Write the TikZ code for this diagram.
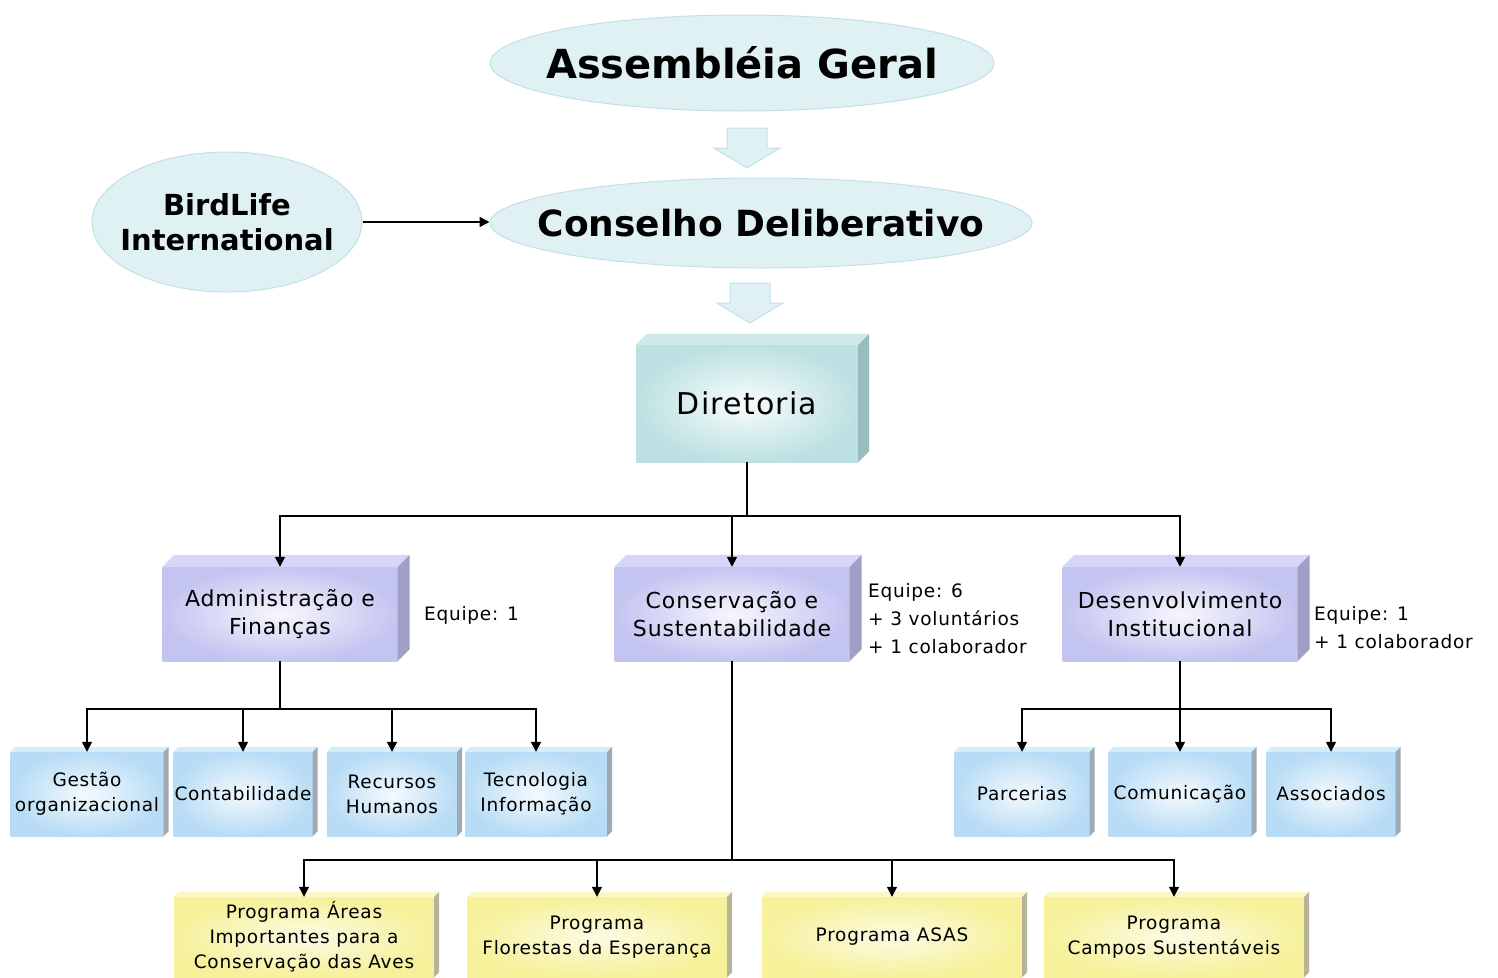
\documentclass[tikz,border=0pt]{standalone}
\usepackage{fontspec}
\setmainfont{DejaVu Sans}
\newfontfamily\verdana{DejaVu Sans}[LetterSpace=4]
\usetikzlibrary{shapes.geometric,arrows.meta,calc}

\definecolor{ovalfundo}{HTML}{E0F1F4}
\definecolor{ovalborda}{HTML}{C2E0E6}
\definecolor{cordir}{HTML}{BDE1E2}
\definecolor{topodir}{HTML}{CDE9E9}
\definecolor{ladodir}{HTML}{98BDBF}
\definecolor{corroxo}{HTML}{C4C4F1}
\definecolor{toporoxo}{HTML}{D6D6F8}
\definecolor{ladoroxo}{HTML}{A0A0C6}
\definecolor{corazul}{HTML}{B8DCF5}
\definecolor{topoazul}{HTML}{D6ECFA}
\definecolor{ladoazul}{HTML}{9EA9B2}
\definecolor{coramar}{HTML}{F6F19A}
\definecolor{topoamar}{HTML}{FAF7C4}
\definecolor{ladoamar}{HTML}{B6B39A}

\begin{document}
\begin{tikzpicture}[x=1pt,y=-1pt]
	\tikzset{
		oval/.style={ellipse,draw=ovalborda,fill=ovalfundo,line width=1pt,inner sep=0pt},
		caixa/.style={rectangle,inner sep=0pt,align=center,font=\verdana\fontsize{18.5}{25}\selectfont},
		dirbox/.style={caixa,minimum width=222pt,minimum height=117pt,
			inner color=white!90!cordir,outer color=cordir,font=\verdana\fontsize{30}{36}\selectfont},
		roxobox/.style={caixa,minimum width=235pt,minimum height=94pt,
			inner color=white!85!corroxo,outer color=corroxo,font=\verdana\fontsize{22}{28}\selectfont},
		azulbox/.style={caixa,minimum height=84pt,inner color=white!85!corazul,outer color=corazul},
		amarbox/.style={caixa,minimum width=260pt,minimum height=80pt,inner color=white!75!coramar,outer color=coramar},
		equipe/.style={anchor=west,align=left,inner sep=0pt,font=\verdana\fontsize{18.5}{28}\selectfont},
		linha/.style={line width=1.5pt,black},
		conn/.style={linha,-{Triangle[length=10pt,width=10pt]}},
		seta/.style={draw=ovalborda,fill=ovalfundo,line width=1pt}
	}
	\useasboundingbox (0,0) rectangle (1498,977);
	% topo
	\node[oval,minimum width=504pt,minimum height=96pt,
		label={[font=\bfseries\fontsize{40}{48}\selectfont]center:Assembléia Geral}] (ag) at (742,63) {};
	\node[oval,minimum width=542pt,minimum height=90pt,
		label={[font=\bfseries\fontsize{36}{44}\selectfont]center:Conselho Deliberativo}] (cd) at (761,223) {};
	\node[oval,minimum width=270pt,minimum height=140pt,
		label={[align=center,font=\bfseries\fontsize{29}{35}\selectfont]center:BirdLife\\International}] (bl) at (227,222) {};
	\coordinate (s1) at (747,128);
	\coordinate (s2) at (750,283);
	\foreach \s in {s1,s2}
		\draw[seta] (\s) ++(-20,0) -- ++(40,0) -- ++(0,20) -- ++(13,0) -- ++(-33,20) -- ++(-33,-20) -- ++(13,0) -- cycle;
	\draw[conn] (bl.east) -- (bl.east -| cd.west);
	% caixas
	\node[dirbox] (dir) at (747,403.5) {Diretoria};
	\node[roxobox] (adm) at (280,614) {Administração e\\Finanças};
	\node[roxobox] (cons) at (732,614) {Conservação e\\Sustentabilidade};
	\node[roxobox] (desenv) at (1180,614) {Desenvolvimento\\Institucional};
	\node[azulbox,minimum width=153pt] (gestao) at (87,794) {Gestão\\organizacional};
	\node[azulbox,minimum width=139pt] (contab) at (243,794) {Contabilidade};
	\node[azulbox,minimum width=130pt] (rh) at (392,794) {Recursos\\Humanos};
	\node[azulbox,minimum width=142pt] (ti) at (536,794) {Tecnologia\\Informação};
	\node[azulbox,minimum width=135pt] (parc) at (1022,794) {Parcerias};
	\node[azulbox,minimum width=143pt] (comun) at (1180,794) {Comunicação};
	\node[azulbox,minimum width=129pt] (assoc) at (1331,794) {Associados};
	\node[amarbox] (iba) at (304,937) {Programa Áreas\\Importantes para a\\Conservação das Aves};
	\node[amarbox] (florestas) at (597,937) {Programa\\Florestas da Esperança};
	\node[amarbox] (asas) at (892,937) {Programa ASAS};
	\node[amarbox] (campos) at (1174,937) {Programa\\Campos Sustentáveis};
	\foreach \no/\d/\c in {dir/11/dir,adm/12/roxo,cons/12/roxo,desenv/12/roxo,
		gestao/5/azul,contab/5/azul,rh/5/azul,ti/5/azul,parc/5/azul,comun/5/azul,assoc/5/azul,
		iba/5/amar,florestas/5/amar,asas/5/amar,campos/5/amar}{
		\fill[fill=topo\c] (\no.north west) -- ++(\d,-\d) -- ($(\no.north east)+(\d,-\d)$) -- (\no.north east) -- cycle;
		\fill[fill=lado\c] (\no.north east) -- ++(\d,-\d) -- ($(\no.south east)+(\d,-\d)$) -- (\no.south east) -- cycle;
	}
	\node[equipe] (eq1) at (424,615) {Equipe: 1};
	\node[equipe] (eq2) at (868,619) {Equipe: 6\\+ 3 voluntários\\+ 1 colaborador};
	\node[equipe] (eq3) at (1314,628) {Equipe: 1\\+ 1 colaborador};
	% ligacoes
	\coordinate (j1) at (747,516);
	\coordinate (j2) at (280,709);
	\coordinate (j3) at (1180,709);
	\coordinate (j4) at (732,860);
	\draw[linha] (dir.south) -- (j1) (adm.south) -- (j2) (desenv.south) -- (j3) (cons.south) -- (j4);
	\foreach \alvo in {adm,cons,desenv}
		\draw[conn] (j1) -| (\alvo.north);
	\foreach \alvo in {gestao,contab,rh,ti}
		\draw[conn] (j2) -| (\alvo.north);
	\foreach \alvo in {parc,comun,assoc}
		\draw[conn] (j3) -| (\alvo.north);
	\foreach \alvo in {iba,florestas,asas,campos}
		\draw[conn] (j4) -| (\alvo.north);
\end{tikzpicture}
\end{document}
